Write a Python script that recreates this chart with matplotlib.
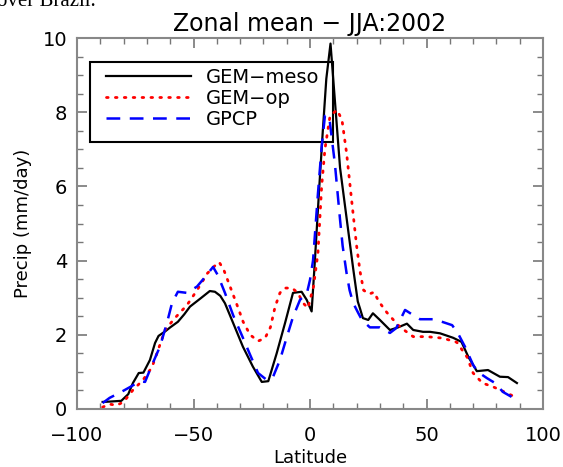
import numpy as np
import matplotlib.pyplot as plt
from matplotlib.patches import Rectangle
from matplotlib.ticker import MultipleLocator
#-----------------------------------------------------------------
# GEM-meso (black solid)
lat_meso = [-89, -86, -81, -78, -76, -73.5, -71.5, -68.7, -66.5, -65, -62, -60,
            -56.7, -54, -51.5, -47, -43, -40.8, -38.5, -36.5, -33, -28.8, -24.5,
            -20.7, -17.9, -14.3, -10.7, -7.3, -3.6, -1.4, 0.7, 2, 4, 5.5, 7,
            8.8, 10.7, 12.9, 15.8, 18.5, 20.5, 21.5, 22.7, 25, 27, 30, 34.3,
            37.8, 41.6, 44.3, 48.5, 51.5, 55.8, 61.4, 65, 68, 71.6, 76.4, 81.5,
            85, 88.8]
meso = [0.19, 0.2, 0.22, 0.4, 0.7, 0.97, 0.98, 1.32, 1.78, 1.97, 2.1, 2.2,
        2.35, 2.55, 2.76, 2.98, 3.18, 3.16, 3.05, 2.85, 2.32, 1.68, 1.14,
        0.73, 0.75, 1.5, 2.32, 3.13, 3.16, 2.94, 2.63, 3.9, 6.0, 7.5, 8.9,
        9.85, 8.3, 6.5, 5.1, 3.8, 2.9, 2.7, 2.45, 2.4, 2.58, 2.4, 2.13,
        2.2, 2.3, 2.13, 2.08, 2.08, 2.04, 1.92, 1.81, 1.4, 1.02, 1.05, 0.87,
        0.86, 0.7]
# GEM-op (red dotted)
lat_op = [-89, -86, -83, -80, -76, -71.7, -67.8, -65.2, -62.2, -58, -52.8,
          -48.5, -44, -41, -39, -37, -34.3, -31, -28.7, -25.7, -22.3, -19.3,
          -17, -15, -12.9, -10.7, -7.7, -5.2, -3, -0.9, 1.5, 3.4, 5, 6.4, 8.6,
          11.6, 13.7, 15.7, 18, 20, 21.5, 23, 25.5, 27.5, 29.5, 33, 37.8, 41,
          44.3, 50, 57, 63, 67.4, 70, 74, 78.5, 84.5, 88.8]
op = [0.05, 0.13, 0.1, 0.19, 0.51, 0.78, 1.13, 1.59, 2.13, 2.45, 2.8,
      3.2, 3.66, 3.85, 3.96, 3.75, 3.3, 2.75, 2.35, 2.0, 1.83, 1.91,
      2.2, 2.75, 3.13, 3.26, 3.26, 3.13, 2.86, 2.72, 3.3, 4.2, 6.0, 7.0, 7.9,
      8.06, 7.8, 6.9, 5.55, 4.4, 3.7, 3.2, 3.1, 3.15, 2.9, 2.6, 2.26, 2.1,
      1.95, 1.95, 1.91, 1.8, 1.4, 0.97, 0.7, 0.6, 0.43, 0.3]
# GPCP (blue dashed)
lat_gpcp = [-89, -86, -81, -77, -73, -70.8, -67.8, -64.4, -61.4, -59.2, -56.7,
            -52.8, -48.5, -45, -41.6, -39.5, -36.5, -33, -29, -25.7, -22.3,
            -18.5, -15.9, -12.9, -9.9, -7.3, -4.3, -1.3, 0, 1.3, 3.4, 5, 6.4,
            8.2, 10.7, 12.9, 14, 15.7, 17, 18.5, 20.6, 22.3, 25.7, 30, 34.3, 37,
            40.8, 44.3, 47.2, 52.8, 56.7, 61, 63.5, 66.5, 70, 72, 76, 79.4,
            82.8, 86.7]
gpcp = [0.16, 0.3, 0.46, 0.6, 0.75, 0.73, 1.19, 1.68, 2.32, 2.86, 3.16,
        3.13, 3.3, 3.56, 3.83, 3.6, 3.13, 2.53, 1.95, 1.46, 0.97,
        0.78, 0.86, 1.32, 1.95, 2.48, 2.94, 3.13, 3.48, 4.0, 5.8, 7.06, 7.9,
        7.9, 6.6, 5.1, 4.4, 3.66, 3.2, 2.86, 2.6, 2.4, 2.2, 2.2, 2.05, 2.18,
        2.67, 2.53, 2.42, 2.42, 2.35, 2.26, 2.04, 1.68, 1.19, 1.0, 0.83, 0.7,
        0.46, 0.32]
labels = ['GEM\u2212meso', 'GEM\u2212op', 'GPCP']
#-----------------------------------------------------------------
plt.rcParams['font.family'] = 'DejaVu Sans'
fig = plt.figure(figsize=(5.63, 4.67), dpi=100)
ax = fig.add_axes([77/563, 1-409/467, 466/563, 371/467])

l1, = ax.plot(lat_meso, meso, color='black', lw=1.6)
l2, = ax.plot(lat_op, op, color='red', lw=2.0, linestyle=(0, (0.6, 2.6)),
              dash_capstyle='round')
l3, = ax.plot(lat_gpcp, gpcp, color='blue', lw=1.8, linestyle=(0, (5.5, 3.8)))

ax.set_xlim(-100, 100)
ax.set_ylim(0, 10)
ax.xaxis.set_major_locator(MultipleLocator(50))
ax.xaxis.set_minor_locator(MultipleLocator(10))
ax.yaxis.set_major_locator(MultipleLocator(2))
ax.yaxis.set_minor_locator(MultipleLocator(0.5))
ax.tick_params(which='both', direction='in', top=True, right=True,
               color='#777777', labelsize=14)
ax.tick_params(which='major', length=7, width=1.2)
ax.tick_params(which='minor', length=4, width=1.0)
ax.tick_params(axis='x', which='major', pad=12)
ax.tick_params(axis='y', which='major', pad=7)
for s in ax.spines.values():
    s.set_color('#888888')
    s.set_linewidth(1.5)

ax.set_title('Zonal mean \u2212 JJA:2002', fontsize=17, pad=5)
ax.set_xlabel('Latitude', fontsize=13, labelpad=3)
ax.set_ylabel('Precip (mm/day)', fontsize=13, labelpad=8)

# legend box
ax.add_patch(Rectangle((0.028, 0.72), 0.521, 0.215, transform=ax.transAxes,
                       fill=False, edgecolor='black', lw=1.5, zorder=1))
ax.legend([l1, l2, l3], labels, loc='upper left',
          bbox_to_anchor=(0.062, 0.92), frameon=False, fontsize=14,
          handlelength=4.4, handletextpad=0.75, labelspacing=0.1,
          borderpad=0, borderaxespad=0)

fig.text(-0.005, 0.987, 'over Brazil.', family='Liberation Serif',
         fontsize=15, va='baseline', ha='left')

fig.savefig('out.png', dpi=100)
